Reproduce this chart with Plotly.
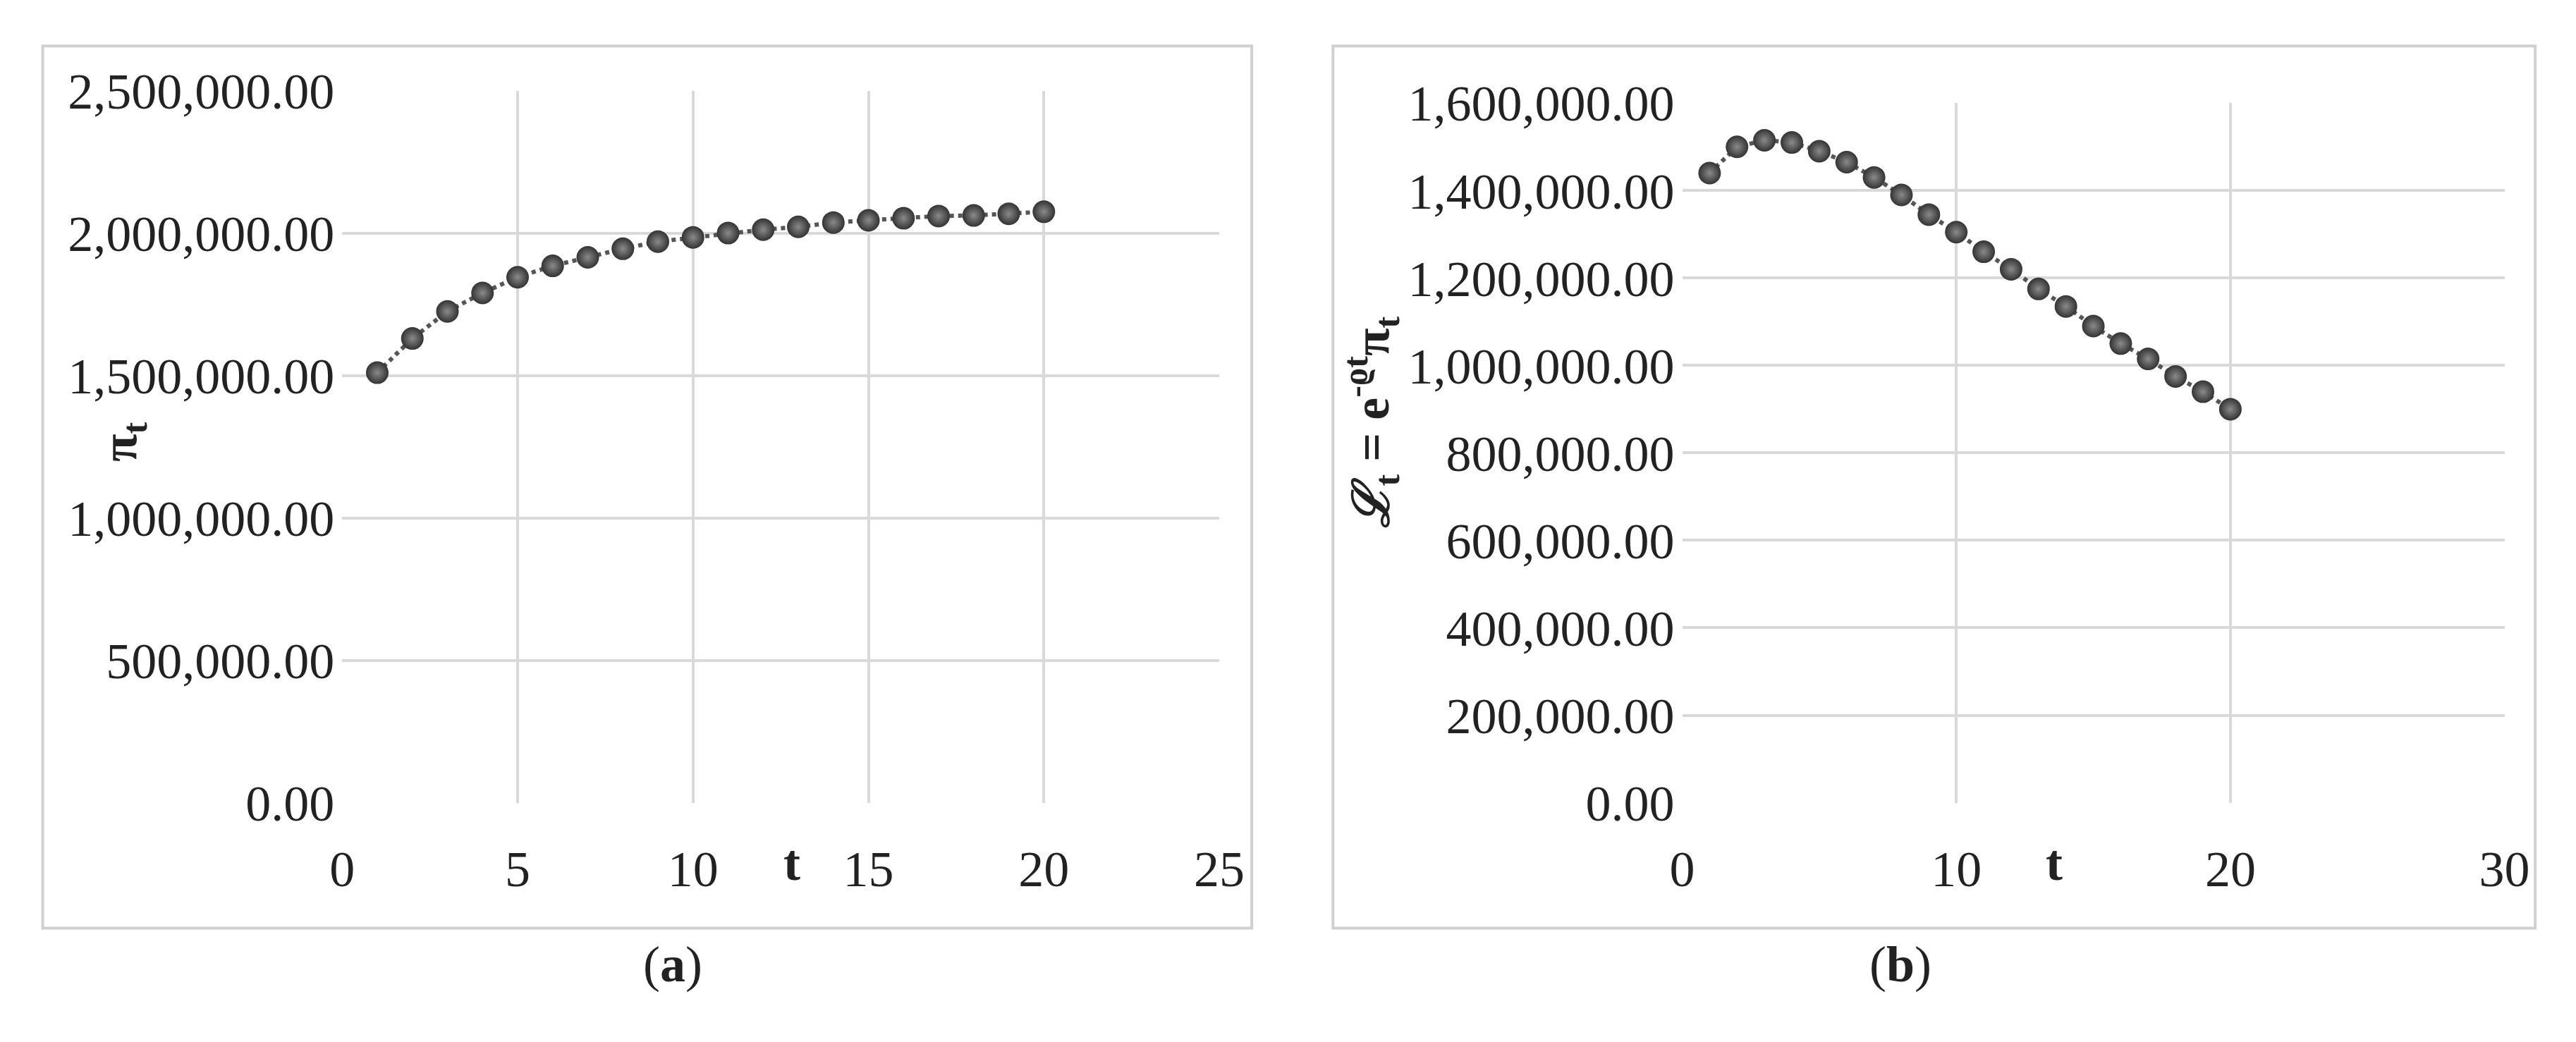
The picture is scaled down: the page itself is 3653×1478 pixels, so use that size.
import plotly.graph_objects as go

t = list(range(1, 21))
profit = [1510000, 1630000, 1725000, 1790000, 1845000, 1885000, 1915000, 1945000,
          1970000, 1985000, 2000000, 2012000, 2022000, 2037000, 2045000, 2052000,
          2060000, 2062000, 2068000, 2075000]
discounted = [1440000, 1500000, 1515000, 1510000, 1490000, 1465000, 1430000, 1390000,
              1345000, 1305000, 1260000, 1220000, 1175000, 1135000, 1090000, 1050000,
              1015000, 975000, 940000, 900000]

FONT = "Liberation Serif"
GRID = "#d9d9d9"

fig = go.Figure()

marker = dict(size=32, color="#333333",
              gradient=dict(type="radial", color="#8a8a8a"),
              line=dict(width=0))
line = dict(color="#555555", width=6, dash="dot")

fig.add_trace(go.Scatter(x=t, y=profit, mode="lines+markers", marker=marker,
                         line=line, xaxis="x", yaxis="y", showlegend=False))
fig.add_trace(go.Scatter(x=t, y=discounted, mode="lines+markers", marker=marker,
                         line=line, xaxis="x2", yaxis="y2", showlegend=False))

ax = dict(showgrid=True, gridcolor=GRID, gridwidth=4, zeroline=False,
          showline=False, ticks="", tickfont=dict(family=FONT, size=72, color="#222"))
xax = dict(ax, ticklabelstandoff=45)
yax = dict(ax, ticklabelstandoff=10)

fig.update_layout(
    width=3653, height=1478,
    margin=dict(l=0, r=0, t=0, b=0),
    paper_bgcolor="white", plot_bgcolor="white",
    xaxis=dict(xax, domain=[0.1276, 0.4732], range=[0, 25], dtick=5, anchor="y"),
    yaxis=dict(yax, domain=[0.2192, 0.9416], range=[0, 2500000], dtick=500000,
               tickformat=",.2f", anchor="x"),
    xaxis2=dict(xax, domain=[0.6556, 0.9796], range=[0, 30], dtick=10, anchor="y2"),
    yaxis2=dict(yax, domain=[0.2192, 0.929], range=[0, 1600000], dtick=200000,
                tickformat=",.2f", anchor="x2"),
)

# panel frames
for x0, x1 in [(0.0096, 0.486), (0.518, 0.9917)]:
    fig.add_shape(type="rect", xref="paper", yref="paper", x0=x0, x1=x1,
                  y0=0.092, y1=0.987, line=dict(color="#d0d0d0", width=4))

ann = dict(xref="paper", yref="paper", showarrow=False,
           font=dict(family=FONT, size=72, color="#222"))
fig.add_annotation(ann, x=0.301, y=0.128, text="<b>t</b>")
fig.add_annotation(ann, x=0.806, y=0.128, text="<b>t</b>")
fig.add_annotation(ann, x=0.028, y=0.585, text="<b>π<sub>t</sub></b>", textangle=-90)
fig.add_annotation(ann, x=0.533, y=0.605,
                   text="<b><i>ℒ</i><sub>t</sub> = e<sup>-ϱt</sup>π<sub>t</sub></b>",
                   textangle=-90)
fig.add_annotation(ann, x=0.2455, y=0.025, text="(<b>a</b>)")
fig.add_annotation(ann, x=0.7545, y=0.025, text="(<b>b</b>)")

fig.write_html("out.html")
